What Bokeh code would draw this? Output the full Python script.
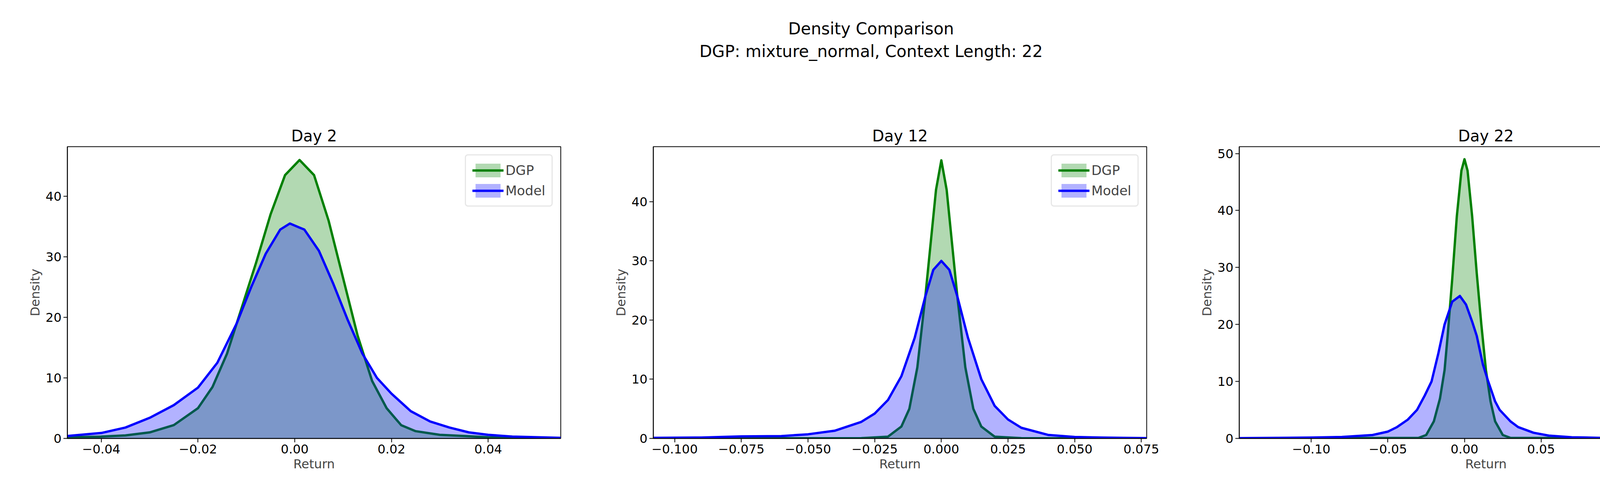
from bokeh.plotting import figure
from bokeh.layouts import column, row
from bokeh.models import Div, Range1d, FixedTicker
from bokeh.embed import file_html
from bokeh.resources import INLINE

# values
day2_x_dgp = [-0.047, -0.04, -0.035, -0.03, -0.025, -0.02, -0.017, -0.014, -0.011, -0.008, -0.005, -0.002,
              0.001, 0.004, 0.007, 0.010, 0.013, 0.016, 0.019, 0.022, 0.025, 0.03, 0.035, 0.04, 0.055]
day2_y_dgp = [0.2, 0.3, 0.5, 1.0, 2.2, 5.0, 8.5, 14, 21.5, 29, 37, 43.5,
              46, 43.5, 36, 26.5, 17, 9.5, 5, 2.2, 1.2, 0.6, 0.4, 0.2, 0.05]
day2_x_model = [-0.047, -0.04, -0.035, -0.03, -0.025, -0.02, -0.016, -0.012, -0.009, -0.006, -0.003, -0.001,
                0.002, 0.005, 0.008, 0.011, 0.014, 0.017, 0.02, 0.024, 0.028, 0.032, 0.036, 0.04, 0.045, 0.055]
day2_y_model = [0.4, 0.9, 1.8, 3.4, 5.5, 8.4, 12.5, 19, 25, 30.5, 34.5, 35.5,
                34.5, 31, 25.5, 19.5, 14, 10, 7.4, 4.5, 2.8, 1.8, 1.0, 0.6, 0.3, 0.1]

day12_x_dgp = [-0.108, -0.03, -0.02, -0.015, -0.012, -0.009, -0.006, -0.004, -0.002, 0.0,
               0.002, 0.004, 0.006, 0.009, 0.012, 0.015, 0.02, 0.03, 0.077]
day12_y_dgp = [0.0, 0.05, 0.3, 2, 5, 12, 24, 33, 42, 47,
               42, 33, 24, 12, 5, 2, 0.3, 0.05, 0.0]
day12_x_model = [-0.108, -0.09, -0.075, -0.06, -0.05, -0.04, -0.03, -0.025, -0.02, -0.015, -0.01, -0.006, -0.003,
                 0.0, 0.003, 0.006, 0.01, 0.015, 0.02, 0.025, 0.03, 0.04, 0.05, 0.06, 0.077]
day12_y_model = [0.1, 0.15, 0.35, 0.4, 0.7, 1.3, 2.8, 4.2, 6.5, 10.5, 17, 24, 28.5,
                 30, 28.5, 24, 17, 10, 5.5, 3.2, 1.8, 0.6, 0.25, 0.15, 0.05]

day22_x_dgp = [-0.147, -0.03, -0.025, -0.02, -0.016, -0.013, -0.011, -0.008, -0.005, -0.002, 0.0,
               0.002, 0.005, 0.008, 0.011, 0.014, 0.017, 0.02, 0.025, 0.03, 0.175]
day22_y_dgp = [0.0, 0.1, 0.6, 3, 7, 12, 18, 28, 39, 47, 49,
               47, 39, 29, 20, 12, 6.5, 3, 0.6, 0.1, 0.0]
day22_x_model = [-0.147, -0.1, -0.08, -0.06, -0.05, -0.044, -0.037, -0.031, -0.026, -0.0215, -0.017, -0.013,
                 -0.008, -0.003, 0.001, 0.005, 0.008, 0.012, 0.0155, 0.02, 0.023, 0.03, 0.035, 0.045,
                 0.055, 0.07, 0.09, 0.175]
day22_y_model = [0.05, 0.15, 0.25, 0.6, 1.2, 2, 3.3, 5, 7.5, 10, 15, 20,
                 24, 25, 23.5, 20.5, 18, 13, 10, 6.5, 5, 3, 2, 1,
                 0.5, 0.2, 0.1, 0.05]

panels = [
    ("Day 2", day2_x_dgp, day2_y_dgp, day2_x_model, day2_y_model,
     (-0.047, 0.055), 48.2, [-0.04, -0.02, 0.0, 0.02, 0.04], 2),
    ("Day 12", day12_x_dgp, day12_y_dgp, day12_x_model, day12_y_model,
     (-0.108, 0.077), 49.3, [-0.1, -0.075, -0.05, -0.025, 0.0, 0.025, 0.05, 0.075], 3),
    ("Day 22", day22_x_dgp, day22_y_dgp, day22_x_model, day22_y_model,
     (-0.147, 0.175), 51.2, [-0.1, -0.05, 0.0, 0.05, 0.1, 0.15], 2),
]

FONT = "DejaVu Sans"
figs = []
for i, (name, xd, yd, xm, ym, xr, ytop, xticks, dec) in enumerate(panels):
    p = figure(
        width=1500 if i < 2 else 1450, height=1002,
        min_border_left=172, min_border_top=115, min_border_bottom=140,
        min_border_right=65 if i < 2 else 15,
        x_range=Range1d(*xr), y_range=Range1d(0, ytop),
        title=name, toolbar_location=None, tools="", output_backend="svg",
    )
    p.title.align = "center"
    p.title.text_font = FONT
    p.title.text_font_size = "40px"
    p.title.text_font_style = "normal"
    p.title.text_color = "black"

    p.varea(x=xd, y1=0, y2=yd, fill_color="green", fill_alpha=0.3, legend_label="DGP")
    p.line(x=xd, y=yd, line_color="green", line_width=6, line_join="round", legend_label="DGP")
    p.varea(x=xm, y1=0, y2=ym, fill_color="blue", fill_alpha=0.3, legend_label="Model")
    p.line(x=xm, y=ym, line_color="blue", line_width=6, line_join="round", legend_label="Model")

    p.xaxis.ticker = FixedTicker(ticks=xticks)
    p.xaxis.major_label_overrides = {t: f"{t:.{dec}f}".replace("-", "\u2212") for t in xticks}
    p.yaxis.ticker = FixedTicker(ticks=[0, 10, 20, 30, 40, 50])
    p.xaxis.axis_label = "Return"
    p.yaxis.axis_label = "Density"
    for ax in (p.xaxis, p.yaxis):
        ax.axis_label_text_font = FONT
        ax.axis_label_text_font_size = "32px"
        ax.axis_label_text_font_style = "normal"
        ax.major_label_text_font = FONT
        ax.major_label_text_font_size = "32px"
        ax.major_label_text_color = "black"
        ax.major_tick_out = 10
        ax.major_tick_in = 0
        ax.major_tick_line_width = 2
        ax.minor_tick_line_color = None
        ax.axis_line_width = 2
    p.xgrid.grid_line_color = None
    p.ygrid.grid_line_color = None
    p.outline_line_color = "black"
    p.outline_line_width = 2

    p.legend.location = "top_right"
    p.legend.label_text_font = FONT
    p.legend.label_text_font_size = "34px"
    p.legend.glyph_width = 80
    p.legend.glyph_height = 44
    p.legend.border_line_color = "#d0d0d0"
    p.legend.border_line_width = 3
    p.legend.border_radius = 8
    p.legend.margin = 20
    p.legend.padding = 16
    p.legend.spacing = 8
    figs.append(p)

header = Div(
    text="<div style='width:4450px;text-align:center;font-family:DejaVu Sans;font-size:42px;"
         "line-height:58px;padding-top:40px;'>"
         "Density Comparison<br>DGP: mixture_normal, Context Length: 22</div>",
    width=4450, height=250,
)

layout = column(header, row(*figs))
open("out.html", "w").write(file_html(layout, INLINE))
